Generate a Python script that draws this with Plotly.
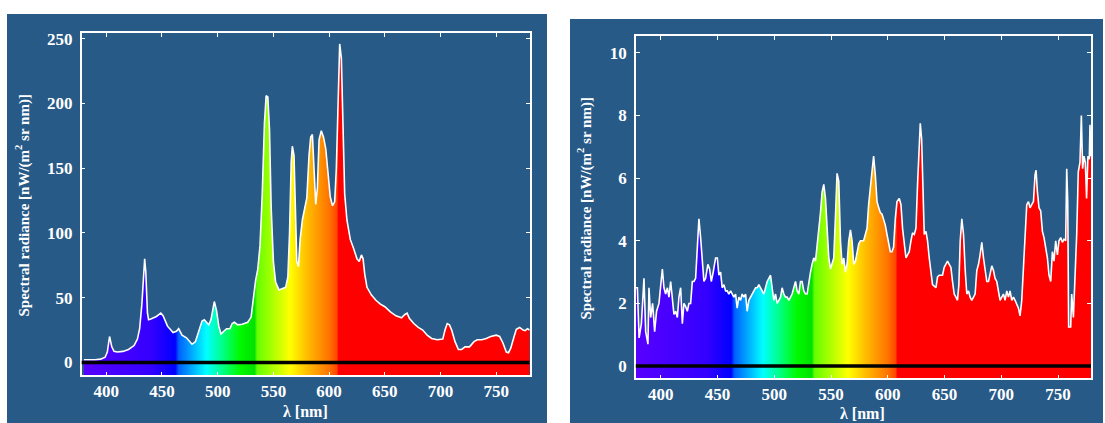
import plotly.graph_objects as go

# ---------------- data ----------------
left_nm = [380, 385, 390, 395, 399, 401, 403, 405, 407, 410, 415, 420, 425, 428, 430, 432, 433.5, 434.5,
           435.5, 437, 438, 440, 445, 449, 451, 455, 460, 463, 465, 468, 472, 477, 480, 483, 486, 488, 490,
           492, 494, 496, 497, 499, 501, 503, 506, 508, 511, 513, 515, 518, 522, 527, 530, 532, 534, 536,
           538, 540, 542, 543.5, 545, 546.5, 548, 550, 552, 555, 558, 561, 563, 564.5, 566, 567, 568.5,
           570, 571, 572.5, 574, 576, 578, 580, 582, 583.5, 585, 586.5, 588, 589.5, 591, 593, 595, 597,
           599, 601, 603, 605, 606.5, 608, 609.5, 611, 612.5, 614, 616, 619, 622, 625, 627, 629, 630.5,
           632, 634, 638, 642, 646, 650, 655, 660, 665, 668, 670, 672, 676, 680, 684, 688, 692, 697, 700,
           702, 704, 706, 708, 710, 713, 716, 719, 722, 726, 730, 733, 737, 741, 745, 750, 753, 756, 759,
           761, 763, 766, 768, 771, 774, 776, 778, 780]
left_val = [2, 1.8, 2, 2.5, 4, 8, 20, 12, 8.5, 8, 8.5, 10, 13, 18, 26, 45, 70, 80,
            70, 38, 33, 33.5, 35.5, 38, 36, 28, 23, 24, 26, 21, 19, 14, 16, 24, 32, 33, 31,
            29, 33, 44, 47, 40, 28, 22, 24, 26, 26, 30, 31, 29, 29.5, 31, 35, 50, 63, 72,
            90, 130, 185, 206, 205, 180, 120, 78, 62, 56, 57, 58, 66, 100, 155, 167, 160,
            110, 78, 74, 95, 110, 118, 127, 160, 174, 176, 150, 122, 135, 172, 179, 174, 165,
            145, 128, 121, 124, 150, 210, 246, 235, 185, 130, 110, 95, 88, 80, 78, 83, 80,
            68, 58, 52, 48, 45, 43, 39, 36, 34.5, 37, 38, 34, 30, 27, 25, 21, 18.5, 17.5, 18,
            18, 25, 30, 29, 25, 16, 10, 10, 12, 12, 16, 17.5, 17.5, 18.5, 20, 21, 20, 15, 8,
            7.5, 11, 20, 25.5, 27, 25, 24.5, 26, 25]

right_nm = [378.2, 379.4, 380.9, 382.9, 385.2, 386.7, 388.7, 389.6, 391.1, 392.8, 394.6, 396.3, 398.4,
            399.9, 401.4, 402.8, 404.3, 405.8, 407.2, 408.7, 410.2, 411.6, 413.1, 414.6, 416.0, 417.5,
            419.0, 420.4, 421.9, 423.4, 424.8, 426.3, 427.8, 429.2, 430.7, 432.2, 433.6, 435.1, 436.6,
            438.0, 439.5, 441.5, 443.0, 444.5, 446.2, 448.3, 449.8, 451.2, 452.7, 454.1, 455.6, 457.1,
            458.5, 460.0, 461.5, 462.9, 464.4, 465.9, 467.3, 468.8, 470.3, 471.7, 473.2, 474.7, 476.1,
            477.6, 479.1, 480.5, 482.0, 483.5, 484.9, 486.4, 487.9, 489.3, 490.8, 492.3, 493.7, 495.2,
            496.7, 498.1, 499.6, 501.1, 502.5, 504.0, 505.5, 506.9, 508.4, 509.9, 511.3, 512.8, 514.3,
            515.7, 517.2, 518.7, 520.1, 521.6, 523.1, 524.5, 526.0, 527.5, 528.9, 530.4, 531.9, 533.3,
            534.8, 536.3, 537.7, 539.2, 540.7, 542.1, 543.6, 545.1, 546.5, 548.0, 549.5, 550.9, 552.4,
            553.9, 555.3, 556.8, 558.3, 559.7, 561.2, 562.7, 564.1, 565.6, 567.1, 568.5, 570.0, 571.5,
            572.9, 574.4, 575.9, 578.7, 581.7, 583.1, 585.2, 587.5, 589.0, 590.5, 592.0, 593.4, 594.9,
            596.3, 597.8, 599.3, 600.7, 602.2, 603.7, 605.1, 606.6, 608.1, 610.1, 611.6, 613.0, 614.5,
            616.0, 617.4, 618.9, 620.4, 621.8, 623.3, 624.8, 626.2, 627.7, 628.6, 629.8, 631.0, 632.1,
            633.6, 635.0, 636.5, 638.0, 639.4, 640.9, 642.4, 643.8, 645.3, 646.8, 648.2, 649.7, 651.2,
            652.6, 654.1, 655.6, 657.0, 658.5, 660.0, 661.4, 662.6, 663.8, 665.2, 666.7, 668.2, 669.6,
            671.1, 672.5, 674.0, 675.5, 676.9, 678.4, 679.9, 681.3, 682.8, 684.3, 685.7, 687.2, 688.7,
            690.1, 691.6, 693.1, 694.5, 696.0, 697.5, 698.9, 700.4, 701.9, 703.3, 704.8, 706.3, 707.7,
            709.2, 710.7, 712.1, 713.6, 715.1, 716.5, 718.0, 719.5, 720.9, 722.4, 723.9, 725.3, 726.8,
            728.3, 729.7, 730.6, 731.8, 733.2, 734.7, 736.2, 737.6, 739.1, 740.6, 742.0, 743.5, 745.0,
            746.4, 747.9, 749.4, 750.8, 752.3, 753.8, 755.2, 756.7, 757.6, 758.5, 759.3, 761.1, 762.0,
            763.5, 764.9, 766.4, 767.8, 769.3, 770.5, 771.6, 772.8, 774.0, 775.1, 776.3, 777.5, 778.1,
            779.0]
right_val = [2.5, 2.5, 0.9, 1.35, 2.8, 1.1, 0.7, 2.5, 1.55, 2.0, 1.1, 1.75, 2.0,
             2.6, 3.1, 2.5, 2.3, 2.5, 2.2, 2.7, 2.0, 1.65, 1.75, 1.55, 2.2, 2.5,
             1.35, 2.0, 1.9, 1.75, 2.0, 2.0, 2.7, 2.7, 2.8, 3.8, 4.7, 4.1, 3.25,
             2.7, 2.8, 3.25, 3.1, 2.7, 3.0, 3.45, 3.45, 2.9, 3.0, 2.5, 2.6, 2.4,
             2.4, 2.3, 2.4, 2.3, 2.2, 2.3, 1.85, 2.2, 2.1, 2.3, 2.2, 2.3, 1.75,
             2.1, 2.2, 2.3, 2.4, 2.5, 2.5, 2.6, 2.5, 2.4, 2.3, 2.5, 2.7, 2.8,
             2.9, 2.5, 2.1, 2.3, 2.0, 2.1, 2.2, 2.5, 2.3, 2.2, 2.2, 2.1, 2.2,
             2.3, 2.5, 2.7, 2.4, 2.3, 2.7, 2.7, 2.4, 2.3, 2.3, 2.7, 3.0, 3.25,
             3.45, 3.35, 3.8, 4.3, 4.9, 5.55, 5.8, 5.35, 4.4, 3.45, 3.1, 3.25, 3.45,
             4.8, 6.15, 5.9, 4.0, 3.25, 3.45, 3.0, 3.25, 4.0, 4.35, 4.0, 3.25, 3.35,
             3.65, 3.9, 4.0, 4.0, 4.4, 5.15, 5.9, 6.7, 6.1, 5.25, 5.05, 4.9, 4.85,
             4.7, 4.5, 4.2, 3.9, 3.65, 3.65, 3.8, 4.7, 5.25, 5.35, 5.15, 4.4, 3.8,
             3.45, 3.55, 3.65, 4.0, 4.25, 4.2, 4.4, 5.8, 7.25, 7.75, 7.25, 5.65, 4.2,
             4.3, 4.0, 3.45, 2.9, 2.6, 2.55, 2.5, 2.85, 2.9, 2.9, 2.9, 3.15, 3.25,
             3.35, 3.25, 3.15, 2.7, 2.3, 2.2, 2.1, 2.6, 4.0, 4.7, 4.2, 3.05, 2.3,
             2.4, 2.2, 2.1, 2.2, 2.3, 3.05, 3.25, 3.55, 3.95, 3.45, 3.05, 2.7, 2.7,
             3.0, 3.2, 3.05, 2.8, 2.7, 2.4, 2.1, 2.2, 2.3, 2.1, 2.4, 2.2, 2.4,
             2.1, 2.2, 2.1, 2.0, 1.85, 1.6, 2.1, 3.15, 4.2, 5.15, 5.25, 5.05, 5.15,
             5.25, 6.1, 6.25, 5.55, 5.05, 4.95, 4.3, 4.1, 3.75, 3.45, 2.9, 2.7, 3.65,
             3.35, 4.0, 3.55, 4.0, 4.1, 3.95, 4.05, 4.0, 6.3, 5.25, 1.25, 1.25, 2.3,
             1.55, 2.9, 4.2, 6.2, 6.5, 8.0, 6.3, 6.7, 6.5, 5.35, 6.7, 6.6, 7.7,
             6.7]

x_ticks = [400, 450, 500, 550, 600, 650, 700, 750]
left_y_ticks = [0, 50, 100, 150, 200, 250]
right_y_ticks = [0, 2, 4, 6, 8, 10]

# wavelength -> colour stops of the spectral fill
spec_nm = [378, 440, 462, 465, 490, 505, 520, 533, 535.5, 565, 580, 600, 607, 608.5, 780]
spec_col = ["rgb(88,0,255)", "rgb(52,0,255)", "rgb(0,0,255)", "rgb(0,95,255)", "rgb(0,255,255)",
            "rgb(0,255,130)", "rgb(0,250,0)", "rgb(0,225,0)", "rgb(100,255,0)", "rgb(255,255,0)",
            "rgb(255,190,0)", "rgb(255,115,0)", "rgb(255,70,0)", "rgb(255,0,0)", "rgb(255,0,0)"]

X_RANGE = [378, 780]
Y1_RANGE = [-10, 254.6]
Y2_RANGE = [-0.39, 10.52]

BLUE = "#285a88"
W, H = 1105, 423
FONT = "Liberation Serif"

def colorscale():
    lo, hi = spec_nm[0], spec_nm[-1]
    return [[(n - lo) / (hi - lo), c] for n, c in zip(spec_nm, spec_col)]

fig = go.Figure()

def add_spectrum(nm, val, ymin, xa, ya):
    fig.add_trace(go.Scatter(x=nm, y=[ymin] * len(nm), mode="lines", line=dict(width=0),
                             xaxis=xa, yaxis=ya, showlegend=False, hoverinfo="skip"))
    fig.add_trace(go.Scatter(x=nm, y=val, mode="lines", fill="tonexty",
                             fillgradient=dict(type="horizontal", colorscale=colorscale(),
                                               start=spec_nm[0], stop=spec_nm[-1]),
                             line=dict(color="white", width=1.6),
                             xaxis=xa, yaxis=ya, showlegend=False))

add_spectrum(left_nm, left_val, Y1_RANGE[0], "x", "y")
add_spectrum(right_nm, right_val, Y2_RANGE[0], "x2", "y2")

tickfont = dict(family=FONT, size=17, color="white", weight="bold")
ax_common = dict(showline=True, linecolor="white", linewidth=1.5, mirror="ticks",
                 ticks="inside", tickcolor="white", ticklen=4, tickwidth=1.2,
                 showgrid=False, zeroline=False, tickfont=tickfont)

def px(x):
    return x / W

def py(y):
    return 1 - y / H

fig.update_layout(
    width=W, height=H,
    margin=dict(l=0, r=0, t=0, b=0),
    paper_bgcolor="white", plot_bgcolor=BLUE,
    xaxis=dict(domain=[px(81.7), px(529.7)], range=X_RANGE, tickvals=x_ticks, anchor="y", **ax_common),
    yaxis=dict(domain=[py(375), py(30)], range=Y1_RANGE, tickvals=left_y_ticks, anchor="x",
               ticklabelstandoff=4, **ax_common),
    xaxis2=dict(domain=[px(635.8), px(1091)], range=X_RANGE[:1] + [779], tickvals=x_ticks, anchor="y2", **ax_common),
    yaxis2=dict(domain=[py(378), py(33.7)], range=Y2_RANGE, tickvals=right_y_ticks, anchor="x2",
                ticklabelstandoff=4, **ax_common),
    showlegend=False,
)

shapes = [
    dict(type="rect", xref="paper", yref="paper", x0=px(7), x1=px(547), y0=0, y1=py(11),
         fillcolor=BLUE, line=dict(width=0), layer="below"),
    dict(type="rect", xref="paper", yref="paper", x0=px(570), x1=px(1103), y0=0, y1=py(16),
         fillcolor=BLUE, line=dict(width=0), layer="below"),
    dict(type="line", xref="x domain", yref="y", x0=0, x1=1, y0=0, y1=0,
         line=dict(color="black", width=3.5), layer="above"),
    dict(type="line", xref="x2 domain", yref="y2", x0=0, x1=1, y0=0, y1=0,
         line=dict(color="black", width=3.5), layer="above"),
]
fig.update_layout(shapes=shapes)

title_font = dict(family=FONT, size=15, color="white", weight="bold")
xtitle_font = dict(family=FONT, size=16, color="white", weight="bold")
ytitle = "Spectral radiance [nW/(m<sup>2</sup> sr nm)]"
annotations = [
    dict(text=ytitle, xref="paper", yref="paper", x=px(23), y=py(204), textangle=-90,
         showarrow=False, font=title_font, xanchor="center", yanchor="middle"),
    dict(text=ytitle, xref="paper", yref="paper", x=px(585), y=py(207), textangle=-90,
         showarrow=False, font=title_font, xanchor="center", yanchor="middle"),
    dict(text="λ [nm]", xref="paper", yref="paper", x=px(305), y=py(411),
         showarrow=False, font=xtitle_font, xanchor="center", yanchor="middle"),
    dict(text="λ [nm]", xref="paper", yref="paper", x=px(862), y=py(413),
         showarrow=False, font=xtitle_font, xanchor="center", yanchor="middle"),
]
fig.update_layout(annotations=annotations)

fig.write_html("out.html", config={"displayModeBar": False},
               post_script="document.body.style.margin='0';document.body.style.padding='0';"
                           "document.body.style.overflow='hidden';")
